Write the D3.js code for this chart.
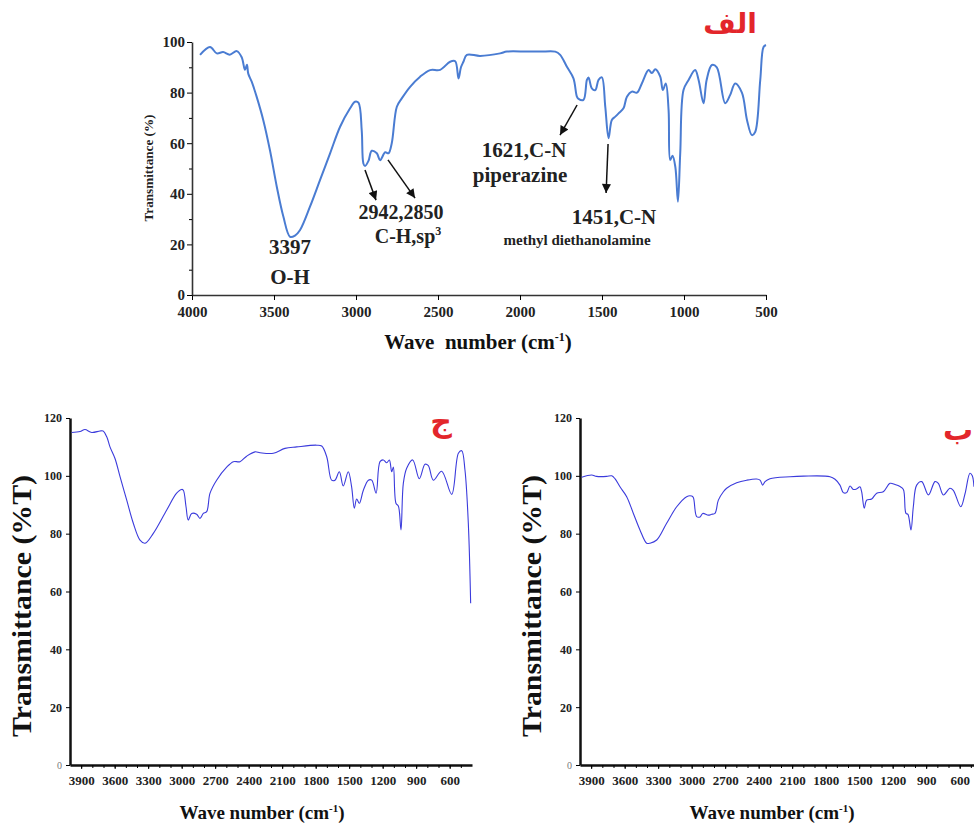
<!DOCTYPE html>
<html>
<head>
<meta charset="utf-8">
<script src="https://cdnjs.cloudflare.com/ajax/libs/d3/7.8.5/d3.min.js"></script>
<style>
  body { margin: 0; background: #fff; }
  text { font-family: "Liberation Serif", "Times New Roman", serif; font-weight: bold; }
</style>
</head>
<body>
<div class="chart"></div>
<script>
// top spectrum (الف)
let topWave = [3951,3890,3849,3810,3770,3727,3697,3677,3665,3657,3636,3606,3565,3524,3483,3443,3402,3372,3341,3280,3219,3158,3097,3036,3006,2985,2965,2955,2945,2924,2904,2873,2853,2822,2802,2782,2751,2721,2670,2609,2548,2487,2426,2395,2375,2360,2345,2324,2243,2121,2080,1958,1877,1785,1755,1714,1674,1653,1643,1613,1592,1582,1562,1541,1521,1501,1480,1460,1440,1419,1399,1369,1348,1318,1287,1257,1216,1196,1175,1145,1129,1111,1094,1084,1070,1053,1037,1023,1003,972,932,911,881,862,830,800,749,719,688,647,616,586,566,535,515,500];
let topTrans = [94.9,98,95.5,96,95,96.4,94,89,91,87.5,84.3,78.4,69,57,42.8,31,23,23.5,25.7,35,45.5,56,66.5,73.8,76.4,76,65,52,51,53,57,56,53.3,56.4,56,60,74.4,77.7,82.3,86.3,88.9,89,92.2,92.4,85.6,90,92.2,94.9,94.5,95.5,96.2,96.2,96.2,96.2,94.9,90.2,85.6,78.4,77.5,77.1,85,86,81.7,81,85,86,74.4,62,69.2,70.5,71.8,73.8,78.4,80.4,80,83.6,88.9,87.7,89.2,86.3,81,83.6,73.1,53.4,55,50.7,36.9,56,81,85,88.9,85,75.8,85,90.9,90,75.8,79,83.6,80,69.2,63.2,64.4,85,98,98.8];

// bottom left spectrum (ج)
let leftWave = [3985,3910,3866,3806,3731,3704,3671,3642,3597,3552,3492,3433,3373,3328,3254,3134,3045,3000,2985,2961,2941,2910,2866,2836,2806,2776,2746,2687,2597,2537,2478,2418,2343,2298,2179,2075,1970,1791,1746,1701,1657,1627,1588,1553,1508,1478,1454,1433,1409,1373,1328,1298,1259,1224,1194,1164,1140,1119,1104,1081,1059,1036,1015,985,931,872,821,791,746,672,582,522,492,463,433,412];
let leftTrans = [115,115.3,116,115,115.5,115.5,113.5,110,106,99.7,91.6,83.6,77.8,76.7,80.1,88.2,94,95.3,95,89.3,84.7,87,86.7,85.3,87,87.6,94,98.5,103,104.9,104.9,106.8,108.3,108,107.8,109.5,110,110.6,110.3,106.6,98.5,98.5,101.4,96.5,101.4,96.2,88.8,92,90.5,95,98.5,98.5,94,104.9,105.5,104.5,105.5,101.4,103,90.5,89.5,81.3,97.4,102.6,105.5,99,104,103.5,98.5,101.6,93.6,107.8,108.7,102,83.6,55.9];

// bottom right spectrum (ب)
let rightWave = [3985,3896,3851,3761,3716,3687,3642,3582,3522,3463,3403,3373,3313,3224,3134,3045,3000,2985,2955,2925,2901,2851,2821,2791,2761,2716,2687,2597,2507,2418,2388,2364,2343,2299,2119,1999,1761,1716,1672,1642,1612,1582,1552,1522,1493,1478,1454,1433,1388,1343,1284,1224,1179,1134,1104,1081,1063,1036,1015,985,940,880,821,791,746,687,657,590,552,508,487,472];
let rightTrans = [99.5,100.3,99.8,99.8,100,99,96.2,92.8,87,81.3,76.7,76.7,77.8,83.6,89.3,92.8,93,92.5,85.9,85.8,87,86.4,86.7,87,91.6,94.5,95.7,97.6,98.5,98.9,98.5,96.8,98,99,99.7,99.9,99.7,98.8,96.8,94.2,94.2,96.5,95.3,95.5,96.2,94.5,88.8,91.6,92,94,94.5,97.4,97,96.3,95.3,87,86.7,81.3,89.3,96.8,98,93.4,98,97.4,93.4,95.7,95,89.3,93.8,100.9,100,96.2];

// ticks
let topXTicks = [4000,3500,3000,2500,2000,1500,1000,500];
let topYTicks = [0,20,40,60,80,100];
let topYMinor = [10,30,50,70,90];
let botXTicks = [3900,3600,3300,3000,2700,2400,2100,1800,1500,1200,900,600];
let botXMinor = [3900,3800,3700,3600,3500,3400,3300,3200,3100,3000,2900,2800,2700,2600,2500,2400,2300,2200,2100,2000,1900,1800,1700,1600,1500,1400,1300,1200,1100,1000,900,800,700,600,500];
let botYTicks = [0,20,40,60,80,100,120];

// annotations of the top panel (wavenumber, %)
let peakLabels = [
  {x: 3402, y: 16.2, text: '3397', size: 21},
  {x: 3402, y: 4.3, text: 'O-H', size: 21},
  {x: 2725, y: 30.2, text: '2942,2850', size: 20},
  {x: 1975, y: 54.5, text: '1621,C-N', size: 21},
  {x: 2000, y: 44.7, text: 'piperazine', size: 21},
  {x: 1427, y: 28.1, text: '1451,C-N', size: 21},
  {x: 1652, y: 19.8, text: 'methyl diethanolamine', size: 15}
];
let arrows = [
  {x1: 2945, y1: 49.4, x2: 2878, y2: 37.5},
  {x1: 2805, y1: 53.4, x2: 2640, y2: 38.3},
  {x1: 1652, y1: 75.1, x2: 1756, y2: 63.2},
  {x1: 1463, y1: 59.7, x2: 1475, y2: 40.3}
];

let width = 974;
let height = 823;

let svg = d3.select('.chart')
            .append('svg')
            .attr('width', width)
            .attr('height', height);

svg.append('defs')
   .append('marker')
   .attr('id', 'arrow')
   .attr('viewBox', '0 0 10 10')
   .attr('refX', 10)
   .attr('refY', 5)
   .attr('markerUnits', 'userSpaceOnUse')
   .attr('markerWidth', 10)
   .attr('markerHeight', 9)
   .attr('orient', 'auto')
   .append('path')
   .attr('d', 'M0,0 L10,5 L0,10 z')
   .attr('fill', '#111');

// ---------- top panel ----------
let xTop = d3.scaleLinear().domain([4000, 500]).range([192, 766]);
let yTop = d3.scaleLinear().domain([0, 100]).range([295, 42]);

let gTopX = svg.append('g')
   .attr('transform', 'translate(0,' + yTop(0) + ')')
   .call(d3.axisBottom(xTop).tickValues(topXTicks).tickFormat(d3.format('d'))
           .tickSize(5).tickSizeOuter(0).tickPadding(6));
gTopX.selectAll('text').style('font-size', '15px').attr('fill', '#222');

let gTopY = svg.append('g')
   .attr('transform', 'translate(' + xTop(4000) + ',0)')
   .call(d3.axisLeft(yTop).tickValues(topYTicks).tickSize(5).tickSizeOuter(0).tickPadding(2));
gTopY.selectAll('text').style('font-size', '15px').attr('fill', '#222');
svg.append('g')
   .attr('transform', 'translate(' + xTop(4000) + ',0)')
   .call(d3.axisLeft(yTop).tickValues(topYMinor).tickSize(3).tickFormat(''))
   .select('.domain').remove();
svg.selectAll('.domain').attr('stroke', '#333').attr('stroke-width', 1.6);

let lineTop = d3.line()
   .x((d, i) => xTop(topWave[i]))
   .y(d => yTop(d))
   .curve(d3.curveCatmullRom.alpha(0.5));

svg.append('path')
   .datum(topTrans)
   .attr('d', lineTop)
   .attr('fill', 'none')
   .attr('stroke', '#4a7cd2')
   .attr('stroke-width', 2)
   .attr('stroke-linejoin', 'round');

svg.selectAll('.peak')
   .data(peakLabels)
   .enter()
   .append('text')
   .attr('class', 'peak')
   .attr('x', d => xTop(d.x))
   .attr('y', d => yTop(d.y))
   .attr('text-anchor', 'middle')
   .style('font-size', d => d.size + 'px')
   .attr('fill', '#222')
   .text(d => d.text);

// C-H,sp3 with superscript
let chText = svg.append('text')
   .attr('x', xTop(2683))
   .attr('y', yTop(20.6))
   .attr('text-anchor', 'middle')
   .style('font-size', '20px')
   .attr('fill', '#222');
chText.append('tspan').text('C-H,sp');
chText.append('tspan').attr('dy', -8).style('font-size', '12px').text('3');

svg.selectAll('.arrow')
   .data(arrows)
   .enter()
   .append('line')
   .attr('class', 'arrow')
   .attr('x1', d => xTop(d.x1))
   .attr('y1', d => yTop(d.y1))
   .attr('x2', d => xTop(d.x2))
   .attr('y2', d => yTop(d.y2))
   .attr('stroke', '#111')
   .attr('stroke-width', 1.5)
   .attr('marker-end', 'url(#arrow)');

svg.append('text')
   .attr('transform', 'translate(153,168) rotate(-90)')
   .attr('text-anchor', 'middle')
   .attr('textLength', 107)
   .attr('lengthAdjust', 'spacingAndGlyphs')
   .style('font-size', '13px')
   .attr('fill', '#222')
   .text('Transmittance (%)');

let topTitle = svg.append('text')
   .attr('x', 478)
   .attr('y', 349)
   .attr('text-anchor', 'middle')
   .style('font-size', '21px')
   .attr('fill', '#111');
topTitle.append('tspan').text('Wave\u00a0\u00a0number (cm');
topTitle.append('tspan').attr('dy', -8).style('font-size', '12px').text('-1');
topTitle.append('tspan').attr('dy', 8).text(')');

svg.append('text')
   .attr('x', xTop(719))
   .attr('y', yTop(103.6))
   .attr('text-anchor', 'middle')
   .style('font-family', '"DejaVu Sans", sans-serif')
   .style('font-size', '28px')
   .attr('fill', '#e3262b')
   .text('الف');

// ---------- bottom panels ----------
function drawPanel(offset, waves, trans, tag, tagX, tagY) {
  let x = d3.scaleLinear().domain([4000, 400]).range([70 + offset, 472 + offset]);
  let y = d3.scaleLinear().domain([0, 120]).range([765, 418]);

  let gx = svg.append('g')
     .attr('transform', 'translate(0,' + y(0) + ')')
     .call(d3.axisBottom(x).tickValues(botXTicks).tickFormat(d3.format('d'))
             .tickSize(4).tickSizeOuter(0).tickPadding(7));
  gx.selectAll('text').style('font-size', '13px').attr('fill', '#222');
  gx.select('.domain').attr('stroke', '#111').attr('stroke-width', 2.5);
  svg.append('g')
     .attr('transform', 'translate(0,' + y(0) + ')')
     .call(d3.axisBottom(x).tickValues(botXMinor).tickSize(3).tickFormat(''))
     .select('.domain').remove();

  let gy = svg.append('g')
     .attr('transform', 'translate(' + x(4000) + ',0)')
     .call(d3.axisLeft(y).tickValues(botYTicks).tickSize(4).tickSizeOuter(0).tickPadding(4));
  gy.selectAll('text').style('font-size', '12px').attr('fill', '#222');
  gy.selectAll('text').filter(d => d === 0)
     .style('font-size', '10px').style('font-weight', 'normal').attr('fill', '#777');
  gy.select('.domain').attr('stroke', '#111').attr('stroke-width', 2.5);

  let line = d3.line()
     .x((d, i) => x(waves[i]))
     .y(d => y(d))
     .curve(d3.curveCatmullRom.alpha(0.5));

  svg.append('path')
     .datum(trans)
     .attr('d', line)
     .attr('fill', 'none')
     .attr('stroke', '#3b3bdc')
     .attr('stroke-width', 1.1)
     .attr('stroke-linejoin', 'round');

  svg.append('text')
     .attr('transform', 'translate(' + (31 + offset) + ',606) rotate(-90)')
     .attr('text-anchor', 'middle')
     .attr('textLength', 262)
     .attr('lengthAdjust', 'spacingAndGlyphs')
     .style('font-size', '27px')
     .attr('fill', '#111')
     .text('Transmittance (%T)');

  let title = svg.append('text')
     .attr('x', 262 + offset)
     .attr('y', 819)
     .attr('text-anchor', 'middle')
     .style('font-size', '19px')
     .attr('fill', '#111');
  title.append('tspan').text('Wave number (cm');
  title.append('tspan').attr('dy', -7).style('font-size', '11px').text('-1');
  title.append('tspan').attr('dy', 7).text(')');

  svg.append('text')
     .attr('x', x(tagX))
     .attr('y', y(tagY))
     .attr('text-anchor', 'middle')
     .style('font-family', '"DejaVu Sans", sans-serif')
     .style('font-size', '30px')
     .attr('fill', '#e3262b')
     .text(tag);
}

drawPanel(0, leftWave, leftTrans, 'ج', 678, 115.1);
drawPanel(510, rightWave, rightTrans, 'ب', 615, 112.4);
</script>
</body>
</html>
